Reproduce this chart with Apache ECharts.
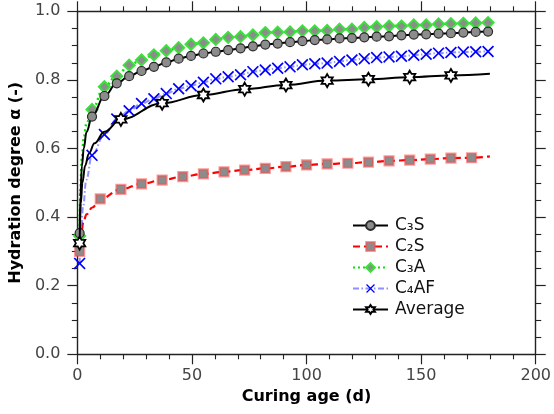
<!DOCTYPE html>
<html>
<head>
<meta charset="utf-8">
<script src="https://cdn.jsdelivr.net/npm/echarts@6/dist/echarts.min.js"></script>
<style>
html,body{margin:0;padding:0;background:#fff;}
#chart{width:554px;height:414px;}
</style>
</head>
<body>
<div id="chart"></div>
<script>
// ---- data ----
const seriesNames = ['C₃S', 'C₂S', 'C₃A', 'C₄AF', 'Average'];
const xTicks = [0, 50, 100, 150, 200];
const yTicks = [0.0, 0.2, 0.4, 0.6, 0.8, 1.0];

// marker days shared by C3S, C3A and C4AF
const markerDays = [1, 6.4, 11.8, 17.2, 22.6, 28, 33.4, 38.8, 44.2, 49.6, 55, 60.4, 65.8, 71.2, 76.6, 82, 87.4, 92.8,
  98.2, 103.6, 109, 114.4, 119.8, 125.2, 130.6, 136, 141.4, 146.8, 152.2, 157.6, 163, 168.4, 173.8, 179.2];
const c3sValues = [0.353, 0.693, 0.753, 0.790, 0.811, 0.826, 0.838, 0.851, 0.862, 0.870, 0.877, 0.882, 0.887, 0.892,
  0.898, 0.903, 0.906, 0.910, 0.913, 0.916, 0.918, 0.921, 0.922, 0.924, 0.926, 0.927, 0.930, 0.932, 0.933, 0.935,
  0.936, 0.938, 0.940, 0.941];
const c3aValues = [0.345, 0.714, 0.780, 0.811, 0.843, 0.858, 0.873, 0.885, 0.894, 0.904, 0.908, 0.918, 0.924, 0.926,
  0.931, 0.938, 0.939, 0.940, 0.943, 0.943, 0.944, 0.948, 0.948, 0.953, 0.955, 0.957, 0.957, 0.960, 0.960, 0.963,
  0.964, 0.965, 0.966, 0.967];
const c4afValues = [0.265, 0.580, 0.641, 0.686, 0.710, 0.731, 0.745, 0.760, 0.774, 0.783, 0.793, 0.803, 0.809, 0.815,
  0.824, 0.829, 0.834, 0.838, 0.844, 0.847, 0.849, 0.854, 0.858, 0.862, 0.865, 0.867, 0.869, 0.872, 0.875, 0.878,
  0.880, 0.881, 0.882, 0.883];
const c2sDays = [1, 10, 19, 28, 37, 46, 55, 64, 73, 82, 91, 100, 109, 118, 127, 136, 145, 154, 163, 172];
const c2sValues = [0.300, 0.453, 0.481, 0.497, 0.508, 0.518, 0.526, 0.532, 0.537, 0.542, 0.547, 0.552, 0.555, 0.557,
  0.560, 0.564, 0.566, 0.569, 0.572, 0.573];
const avgDays = [1, 19, 37, 55, 73, 91, 109, 127, 145, 163];
const avgValues = [0.324, 0.685, 0.732, 0.756, 0.773, 0.785, 0.798, 0.802, 0.808, 0.813];

// extra points on the drawn curves (no marker)
const c3sCurveDays = [1.3, 2, 2.8, 4];
const c3sCurveValues = [0.46, 0.55, 0.60, 0.648];
const c3aCurveDays = [1.3, 2, 2.8, 4];
const c3aCurveValues = [0.48, 0.576, 0.63, 0.673];
const c4afCurveDays = [1.4, 2.5, 3.9];
const c4afCurveValues = [0.333, 0.43, 0.508];
const c2sCurveDays = [1.6, 2.6, 4, 6.5, 180];
const c2sCurveValues = [0.345, 0.385, 0.408, 0.428, 0.577];
const avgCurveDays = [1.5, 2.2, 3.4, 5, 7.5, 11.8, 180];
const avgCurveValues = [0.44, 0.50, 0.55, 0.585, 0.615, 0.649, 0.818];

function buildData(days, vals, cDays, cVals) {
  const pts = [];
  days.forEach((d, i) => pts.push({ value: [d, vals[i]] }));
  cDays.forEach((d, i) => pts.push({ value: [d, cVals[i]], symbol: 'none' }));
  pts.sort((a, b) => a.value[0] - b.value[0]);
  return pts;
}

const xSymbol = 'path://M0,1 L1,0 L5,4 L9,0 L10,1 L6,5 L10,9 L9,10 L5,6 L1,10 L0,9 L4,5 Z';
const starSymbol = 'path://M50,0 L64.43,25 L93.3,25 L78.87,50 L93.3,75 L64.43,75 L50,100 L35.57,75 L6.7,75 L21.13,50 L6.7,25 L35.57,25 Z';

const FONT = 'DejaVu Sans';
const axisCommonX = {
  type: 'value', min: 0, max: 200, interval: 50,
  axisLine: { show: true, onZero: false, lineStyle: { color: '#222', width: 1.4 } },
  axisTick: { show: true, length: 10, lineStyle: { color: '#222', width: 1.2 } },
  minorTick: { show: true, splitNumber: 5, length: 5, lineStyle: { color: '#222', width: 1.1 } },
  splitLine: { show: false }, minorSplitLine: { show: false }
};
const axisCommonY = {
  type: 'value', min: 0, max: 1, interval: 0.2,
  axisLine: { show: true, onZero: false, lineStyle: { color: '#222', width: 1.4 } },
  axisTick: { show: true, length: 10, lineStyle: { color: '#222', width: 1.2 } },
  minorTick: { show: true, splitNumber: 4, length: 5.5, lineStyle: { color: '#222', width: 1.1 } },
  splitLine: { show: false }, minorSplitLine: { show: false }
};

const chart = echarts.init(document.getElementById('chart'), null, { renderer: 'canvas' });
chart.setOption({
  animation: false,
  backgroundColor: '#fff',
  grid: { left: 76, right: 15.5, top: 11.3, bottom: 59.7, containLabel: false },
  xAxis: [
    Object.assign({}, axisCommonX, {
      position: 'bottom',
      name: 'Curing age (d)', nameLocation: 'middle', nameGap: 34,
      nameTextStyle: { fontFamily: FONT, fontWeight: 'bold', fontSize: 16, color: '#000' },
      axisLabel: { fontFamily: FONT, fontSize: 16, color: '#444', margin: 14,
        formatter: v => xTicks.includes(v) ? String(v) : '' }
    }),
    Object.assign({}, axisCommonX, { position: 'top', axisLabel: { show: false } })
  ],
  yAxis: [
    Object.assign({}, axisCommonY, {
      position: 'left',
      name: 'Hydration degree α (-)', nameLocation: 'middle', nameGap: 39,
      nameTextStyle: { fontFamily: FONT, fontWeight: 'bold', fontSize: 16, color: '#000' },
      axisLabel: { fontFamily: FONT, fontSize: 16, color: '#444', margin: 17,
        formatter: v => yTicks.some(t => Math.abs(t - v) < 1e-9) ? v.toFixed(1) : '' }
    }),
    Object.assign({}, axisCommonY, { position: 'right', axisLabel: { show: false } })
  ],
  legend: {
    orient: 'vertical', left: 347, top: 212,
    itemWidth: 35, itemHeight: 11, itemGap: 4,
    textStyle: { fontFamily: FONT, fontSize: 17, color: '#111', padding: [0, 0, 0, 2] },
    data: seriesNames
  },
  series: [
    {
      name: seriesNames[0], type: 'line', smooth: 0.4, smoothMonotone: 'x',
      data: buildData(markerDays, c3sValues, c3sCurveDays, c3sCurveValues),
      symbol: 'circle', symbolSize: 9,
      lineStyle: { color: '#000', width: 2 },
      itemStyle: { color: '#8c8c8c', borderColor: '#2a2a2a', borderWidth: 1.2 },
      z: 3
    },
    {
      name: seriesNames[1], type: 'line', smooth: 0.4, smoothMonotone: 'x',
      data: buildData(c2sDays, c2sValues, c2sCurveDays, c2sCurveValues),
      symbol: 'rect', symbolSize: 9,
      lineStyle: { color: '#ff0000', width: 2.2, type: [7, 4] },
      itemStyle: { color: '#8c8c8c', borderColor: 'rgba(255,70,70,0.55)', borderWidth: 2.2 },
      z: 2
    },
    {
      name: seriesNames[2], type: 'line', smooth: 0.4, smoothMonotone: 'x',
      data: buildData(markerDays, c3aValues, c3aCurveDays, c3aCurveValues),
      symbol: 'diamond', symbolSize: 11,
      lineStyle: { color: '#00e600', width: 2.5, type: [2, 3] },
      itemStyle: { color: '#8c8c8c', borderColor: '#3ce03c', borderWidth: 2 },
      z: 2
    },
    {
      name: seriesNames[3], type: 'line', smooth: 0.4, smoothMonotone: 'x',
      data: buildData(markerDays, c4afValues, c4afCurveDays, c4afCurveValues),
      symbol: xSymbol, symbolSize: 12, symbolKeepAspect: true,
      lineStyle: { color: 'rgba(70,70,255,0.6)', width: 2, type: [6, 2.5, 1.5, 2.5] },
      itemStyle: { color: '#0000ff', borderWidth: 0 },
      z: 2
    },
    {
      name: seriesNames[4], type: 'line', smooth: 0.4, smoothMonotone: 'x',
      data: buildData(avgDays, avgValues, avgCurveDays, avgCurveValues),
      symbol: starSymbol, symbolSize: 13, symbolKeepAspect: true,
      lineStyle: { color: '#000', width: 2 },
      itemStyle: { color: '#ffffff', borderColor: '#000', borderWidth: 1.8 },
      z: 4
    }
  ]
});
</script>
</body>
</html>
